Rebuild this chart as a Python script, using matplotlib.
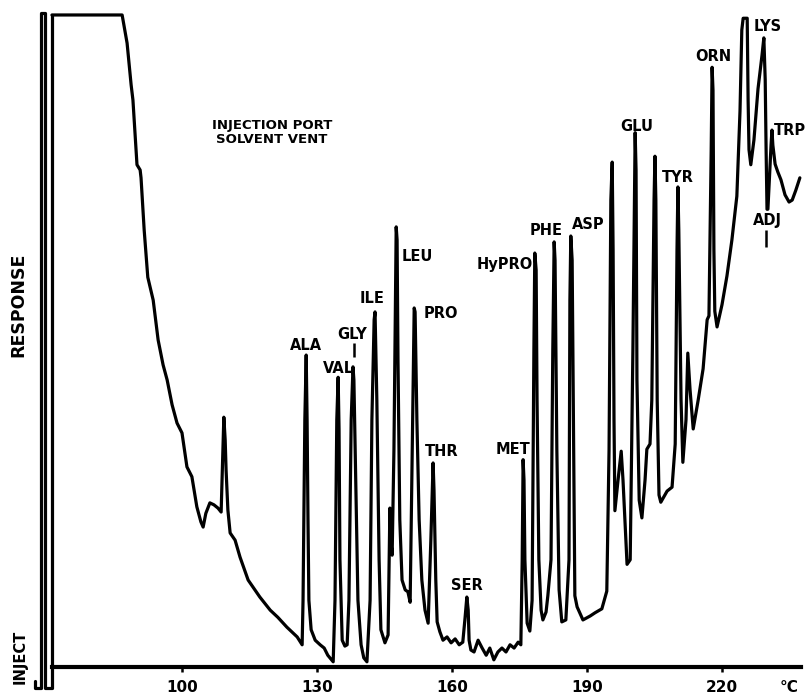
import matplotlib
matplotlib.use('Agg')
import matplotlib.pyplot as plt

# Pen marks at injection (before the temperature program starts)
inject_temp = [67.3, 67.3, 68.7, 68.7, 69.6, 69.6, 71.1, 71.1]
inject_resp = [-2.1, -3.2, -3.2, 100.0, 100.0, -3.2, -3.2, 99.7]

# Solvent front, off scale then tailing down
solvent_temp = [71.1, 86.7, 87.8, 88.7, 89.1, 90.0, 90.7, 90.9, 91.6, 92.4,
                93.6, 94.7, 95.8, 96.7, 97.8, 98.9, 100.0, 101.1, 102.2, 103.3,
                104.2, 104.7, 105.3, 106.2, 107.1, 108.0, 108.7, 108.9, 109.3, 109.6,
                109.8, 110.2, 110.7, 111.8, 112.9, 114.7, 117.3, 119.6, 121.3, 123.3,
                125.6, 126.7]
solvent_resp = [99.7, 99.7, 95.4, 89.0, 86.7, 76.8, 76.0, 74.8, 66.8, 59.6,
                56.1, 50.0, 46.2, 43.9, 40.1, 37.3, 35.8, 30.6, 29.1, 24.5,
                22.2, 21.4, 23.5, 25.1, 24.8, 24.3, 23.7, 28.6, 38.2, 34.7,
                30.1, 24.0, 20.5, 19.4, 16.8, 13.3, 10.7, 8.7, 7.6, 6.1,
                4.6, 3.4]

# ALA through SER, then baseline up to MET
early_temp = [126.9, 127.3, 127.6, 127.8, 128.0, 128.2, 128.7, 129.6, 130.7, 131.6, 132.4, 133.6,
              134.0, 134.4, 134.7, 134.9, 135.1, 135.6, 136.2, 136.7,
              137.1, 137.6, 138.0, 138.2, 138.7, 139.1, 139.8, 140.4, 141.1,
              141.8, 142.2, 142.7, 142.9, 143.3, 143.8, 144.2, 145.1, 145.8,
              146.2, 146.4, 146.7, 147.1, 147.6, 147.8, 148.0, 148.4, 148.9, 149.6, 150.2, 150.7,
              151.1, 151.6, 151.8, 152.2, 152.7, 153.3, 154.0, 154.7,
              155.3, 155.8, 156.0, 156.4, 156.7, 157.3, 158.0, 158.9, 159.8, 160.7, 161.6, 162.4,
              162.9, 163.3, 163.6, 163.8, 164.2, 164.9, 165.8, 166.7, 167.6, 168.4, 169.3, 170.2,
              171.1, 172.0, 172.9, 173.8, 174.7, 175.3]
early_resp = [10.2, 37.8, 47.7, 37.8, 22.5, 10.2, 5.7, 4.1, 3.4, 2.9, 1.8, 0.8,
              10.2, 37.8, 44.3, 36.4, 16.4, 4.1, 3.2, 3.4,
              10.2, 37.8, 45.9, 43.9, 25.5, 10.2, 3.4, 1.4, 0.8,
              10.2, 37.8, 53.1, 54.3, 40.8, 16.4, 5.7, 3.7, 4.9,
              24.3, 19.4, 17.1, 33.2, 67.3, 65.3, 46.9, 22.5, 13.3, 11.8, 11.5, 9.9,
              30.1, 54.9, 54.3, 37.8, 22.5, 13.3, 8.7, 6.7,
              19.4, 31.2, 27.1, 13.3, 6.9, 5.4, 4.1, 4.6, 3.7, 4.3, 3.4, 3.8,
              7.5, 10.7, 8.7, 4.1, 2.6, 2.3, 4.1, 2.9, 1.8, 2.9, 1.1, 2.3,
              2.9, 2.3, 3.4, 2.9, 3.8, 3.4]

# MET through TRP, rising baseline at the top of the program
late_temp = [175.6, 175.8, 176.0, 176.2, 176.7, 177.3, 177.8,
             178.2, 178.4, 178.7, 178.9, 179.3, 179.8, 180.2, 180.9, 181.3, 182.0,
             182.4, 182.7, 182.9, 183.3, 183.8, 184.4, 185.3, 186.0,
             186.2, 186.4, 186.7, 187.1, 187.3, 187.8, 189.1, 190.7, 191.8, 193.3, 194.4, 194.9,
             195.3, 195.6, 195.8, 196.0, 196.2, 196.9, 197.6, 198.0, 198.9, 199.6,
             200.2, 200.7, 200.9, 201.1, 201.6, 202.2, 202.9, 203.3, 204.0, 204.4,
             204.9, 205.1, 205.3, 205.6, 206.0, 206.4, 207.8, 208.9, 209.6,
             210.0, 210.2, 210.4, 210.9, 211.3, 212.0, 212.4, 212.9, 213.6, 214.7, 215.8, 216.7, 217.1,
             217.6, 217.8, 218.0, 218.2, 218.4, 218.9, 220.0, 221.1, 222.2, 223.3, 224.0, 224.4,
             224.7, 225.6, 225.8, 226.0, 226.4, 227.1, 228.0, 228.9, 229.3,
             229.6, 229.8, 230.0, 230.2, 230.4, 230.9, 231.1, 231.3, 231.8, 232.4, 233.1, 234.0,
             234.9, 235.6, 236.4, 237.3]
late_resp = [16.4, 31.7, 28.6, 16.4, 6.7, 5.5, 10.2,
             48.5, 63.3, 60.7, 40.8, 16.4, 8.7, 7.2, 8.4, 10.9, 16.4,
             48.5, 65.0, 62.2, 33.2, 11.8, 6.9, 7.2, 16.4,
             56.1, 65.9, 62.2, 28.6, 10.9, 9.2, 7.2, 7.8, 8.3, 8.9, 11.6, 33.2,
             71.4, 77.2, 63.8, 37.8, 23.9, 28.6, 33.0, 28.6, 15.7, 16.4,
             48.5, 81.7, 76.0, 43.9, 25.5, 22.8, 28.6, 33.3, 34.1, 40.8,
             71.4, 78.1, 71.4, 40.8, 26.3, 25.2, 26.9, 27.5, 34.1,
             63.8, 73.4, 66.8, 40.8, 31.3, 37.8, 48.0, 42.4, 36.4, 40.8, 45.6, 53.1, 53.7,
             79.1, 91.7, 88.2, 63.8, 54.4, 52.0, 55.4, 59.8, 65.3, 72.0, 85.0, 97.4,
             99.2, 99.2, 86.7, 79.1, 76.8, 80.6, 88.4, 93.6, 96.2,
             89.8, 79.1, 70.0, 70.0, 72.9, 79.8, 82.1, 79.8, 76.9, 75.7, 74.5, 72.2,
             71.1, 71.4, 72.9, 74.8]

# Peak names and where their labels sit
peak_names = ['ALA', 'VAL', 'GLY', 'ILE', 'LEU', 'PRO', 'THR', 'SER', 'MET',
              'HyPRO', 'PHE', 'ASP', 'GLU', 'TYR', 'ORN', 'LYS', 'TRP', 'ADJ']
label_temp = [127.6, 134.7, 137.8, 142.2, 152.2, 157.6, 157.8, 163.3, 173.6,
              171.8, 180.9, 190.2, 201.1, 210.2, 218.0, 230.2, 235.2, 230.2]
label_resp = [49.2, 45.7, 50.8, 56.4, 62.7, 54.1, 32.9, 12.5, 33.2,
              61.5, 66.7, 67.7, 82.6, 74.8, 93.4, 97.9, 82.1, 68.2]

ticks = [100, 130, 160, 190, 220]

fig = plt.figure(figsize=(8.08, 6.99), dpi=100)
ax = fig.add_axes([0, 0, 1, 1])
ax.set_xlim(59.56, 239.11)
ax.set_ylim(-4.89, 101.99)

pen = dict(color='black', lw=2.3, solid_joinstyle='round', solid_capstyle='round')
ax.plot(inject_temp, inject_resp, **pen)
trace_temp = solvent_temp + early_temp + late_temp
trace_resp = solvent_resp + early_resp + late_resp
ax.plot(trace_temp, trace_resp, **pen)

# temperature axis along the chart baseline
for side in ['top', 'right', 'left']:
    ax.spines[side].set_visible(False)
ax.spines['bottom'].set_position(('data', 0))
ax.spines['bottom'].set_bounds(71.1, 237.6)
ax.spines['bottom'].set_linewidth(3)
ax.set_xticks(ticks)
ax.set_xticklabels([str(t) for t in ticks], fontsize=11, fontweight='bold')
ax.tick_params(axis='x', direction='out', length=3.5, width=1.8, pad=6)
ax.set_yticks([])
ax.text(234.8, -3.2, '°C', ha='center', va='center', fontsize=11, fontweight='bold')

for name, t, r in zip(peak_names, label_temp, label_resp):
    ax.text(t, r, name, ha='center', va='center', fontsize=10.5, fontweight='bold')

# short leader marks under GLY and ADJ
ax.vlines(138.2, 47.4, 49.5, color='black', lw=1.8)
ax.vlines(229.8, 64.2, 66.8, color='black', lw=1.8)

ax.text(120.0, 81.7, 'INJECTION PORT\nSOLVENT VENT', ha='center', va='center',
        fontsize=9.5, fontweight='bold', linespacing=1.15)

fig.text(0.0223, 0.5637, 'RESPONSE', rotation=90, ha='center', va='center',
         fontsize=12.5, fontweight='bold')
fig.text(0.0248, 0.060, 'INJECT', rotation=90, ha='center', va='center',
         fontsize=10.5, fontweight='bold')

fig.savefig('out.png', dpi=100, facecolor='white')
